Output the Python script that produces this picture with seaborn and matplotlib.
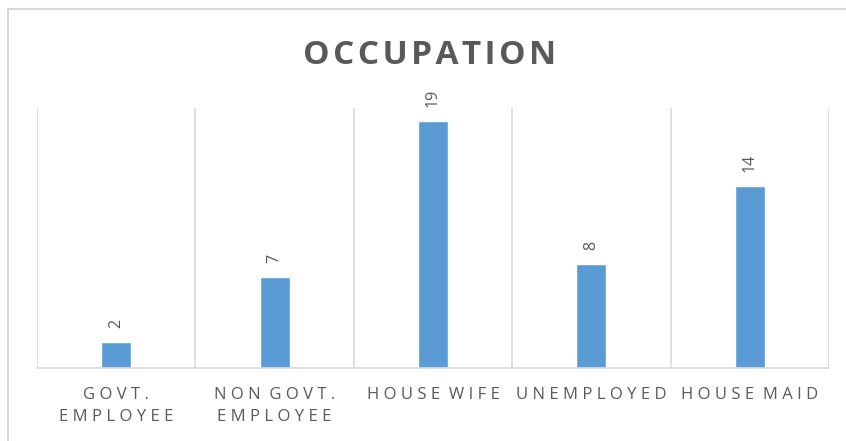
import matplotlib
matplotlib.use("Agg")
import matplotlib.pyplot as plt
import seaborn as sns
from matplotlib.lines import Line2D

# data
categories = ["GOVT.\nEMPLOYEE", "NON GOVT.\nEMPLOYEE", "HOUSE WIFE", "UNEMPLOYED", "HOUSE MAID"]
counts = [2, 7, 19, 8, 14]
title = "OCCUPATION"

bar_color = "#5B9BD5"
text_color = "#595959"
grid_color = "#D9D9D9"


def spaced(s, gap=" "):
    # fake letter spacing like the Excel style
    lines = []
    for line in s.split("\n"):
        words = [gap.join(w) for w in line.split(" ")]
        lines.append((gap * 2).join(words))
    return "\n".join(lines)


sns.set_style("white")
plt.rcParams["font.family"] = ["Open Sans", "DejaVu Sans"]

fig = plt.figure(figsize=(8.46, 4.41), dpi=100)
ax = fig.add_axes([37 / 846, 73 / 441, (829 - 37) / 846, (368 - 108) / 441])

sns.barplot(x=list(range(len(counts))), y=counts, color=bar_color,
            width=0.19, saturation=1, ax=ax)

ax.set_xlim(-0.5, len(counts) - 0.5)
ax.set_ylim(0, 20)
ax.set_yticks([])
ax.set_xticks(range(len(counts)))
ax.set_xticklabels([spaced(c) for c in categories], color=text_color,
                   fontsize=12, linespacing=1.45)
ax.tick_params(axis="x", length=0, pad=14)

# category separators
for b in [i - 0.5 for i in range(len(counts) + 1)]:
    ax.axvline(b, color=grid_color, lw=1.2, zorder=0)

for s in ["top", "right", "left"]:
    ax.spines[s].set_visible(False)
ax.spines["bottom"].set_color(grid_color)
ax.spines["bottom"].set_linewidth(1.2)

# value labels
for i, v in enumerate(counts):
    ax.text(i, v + 1.1, str(v), rotation=90, ha="center", va="bottom",
            color=text_color, fontsize=11.5)

fig.text(0.508, 0.874, spaced(title, "\u200a"), ha="center", va="center",
         fontsize=24, fontweight="bold", color=text_color)

# chart frame (left and top edges visible)
fig.add_artist(Line2D([8 / 846, 8 / 846], [0, 1 - 9 / 441], color=grid_color,
                      lw=1.5, transform=fig.transFigure))
fig.add_artist(Line2D([8 / 846, 1], [1 - 9 / 441, 1 - 9 / 441], color=grid_color,
                      lw=1.5, transform=fig.transFigure))

fig.savefig("out.png", dpi=100)
